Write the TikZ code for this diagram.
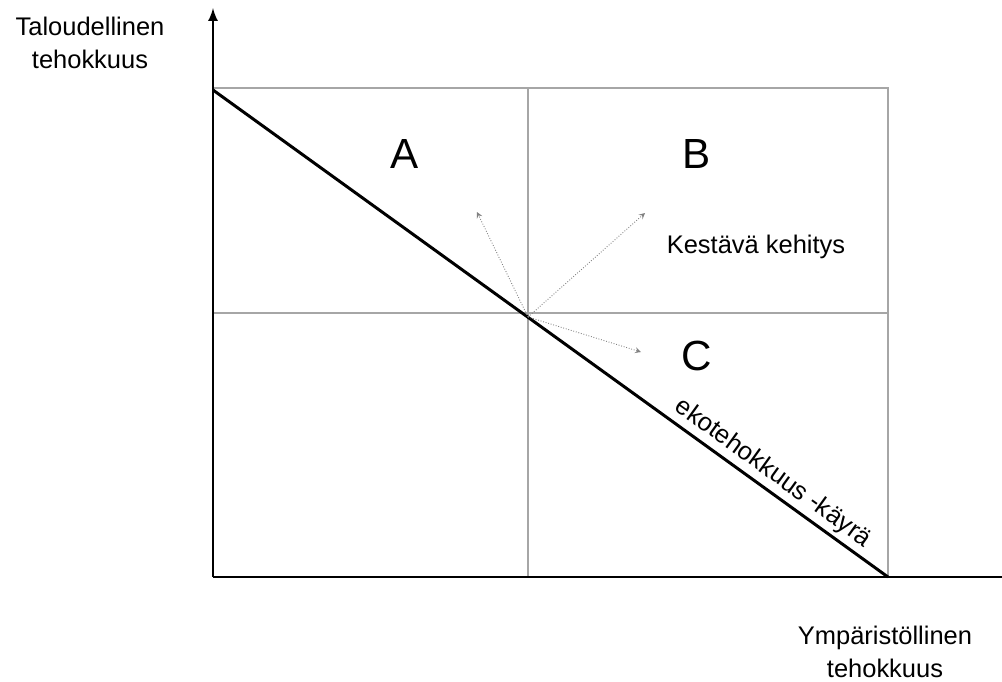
\documentclass[tikz,border=0pt]{standalone}
\usepackage{fontspec}
\setmainfont{Liberation Sans}
\usepackage{tikz}

\begin{document}
\begin{tikzpicture}[x=0.02cm,y=0.02cm,>=latex]
\useasboundingbox (-213,-104) rectangle (789,577);
\coordinate (o) at (0,0);
\coordinate (ytop) at (0,569);
\coordinate (xend) at (789,0);
\coordinate (c) at (315,260);
\coordinate (ca) at (264,365);
\coordinate (cb) at (432,364);
\coordinate (cc) at (428,225);
\draw[gray!70,line width=0.6pt] (0,489) -- (675,489) -- (675,0);
\draw[gray!70,line width=0.6pt] (315,489) -- (315,0);
\draw[gray!70,line width=0.6pt] (0,264) -- (675,264);
\draw[line width=1.7pt] (0,487) -- node[pos=0.815,sloped,above,font=\fontsize{14.5}{17}\selectfont,inner sep=2pt] (curve) {ekotehokkuus -käyrä} (675,0);
\draw[->,line width=1.5pt] (o) -- (ytop);
\draw[line width=1.5pt] (o) -- (xend);
\draw[->,gray,densely dotted,line width=0.5pt,>=stealth] (c) -- (ca);
\draw[->,gray,densely dotted,line width=0.5pt,>=stealth] (c) -- (cb);
\draw[->,gray,densely dotted,line width=0.5pt,>=stealth] (c) -- (cc);
\node[font=\fontsize{24}{28}\selectfont]  (a) at (192,423) {A};
\node[font=\fontsize{24}{28}\selectfont]  (b) at (484,423) {B};
\node[font=\fontsize{24}{28}\selectfont]  (cl) at (484,221) {C};
\node[font=\fontsize{14.5}{19}\selectfont] (kk) at (543,330) {Kestävä kehitys};
\node[align=center,font=\fontsize{14.5}{19}\selectfont] (ylab) at (-123,534) {Taloudellinen\\tehokkuus};
\node[align=center,font=\fontsize{14.5}{19}\selectfont] (xlab) at (672,-75) {Ympäristöllinen\\tehokkuus};
\end{tikzpicture}
\end{document}
